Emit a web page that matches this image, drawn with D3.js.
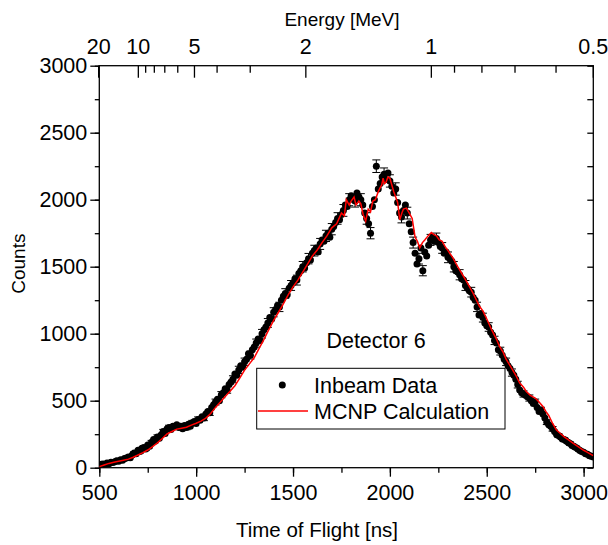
<!DOCTYPE html>
<html>
<head>
<meta charset="utf-8">
<script src="https://cdn.jsdelivr.net/npm/d3@7"></script>
<style>
  html, body { margin: 0; padding: 0; background: #fff; }
  svg { display: block; font-family: "Liberation Sans", Arial, Helvetica, sans-serif; }
</style>
</head>
<body>
<svg id="chart" width="608" height="545"></svg>
<script>
// ---------------- DATA ----------------
const xTicks = [500, 1000, 1500, 2000, 2500, 3000];
const yTicks = [0, 500, 1000, 1500, 2000, 2500, 3000];
const energyMajor = [20, 10, 5, 2, 1, 0.5];
const energyMinor = [9, 8, 7, 6, 4, 3, 0.9, 0.8, 0.7, 0.6];

// Inbeam data: time of flight [ns] and counts
const dataTof = [
 500,510,520,530,540,550,560,570,580,590,600,610,620,630,640,650,660,670,680,690,
 700,710,720,730,740,750,760,770,780,790,800,810,820,830,840,850,860,870,880,890,
 900,910,920,930,940,950,960,970,980,990,1000,1010,1020,1030,1040,1050,1060,1070,1080,1090,
 1100,1110,1120,1130,1140,1150,1160,1170,1180,1190,1200,1210,1220,1230,1240,1250,1260,1270,1280,1290,
 1300,1310,1320,1330,1340,1350,1360,1370,1380,1390,1400,1410,1420,1430,1440,1450,1460,1470,1480,1490,
 1500,1510,1520,1530,1540,1550,1560,1570,1580,1590,1600,1610,1620,1630,1640,1650,1660,1670,1680,1690,
 1700,1710,1720,1730,1740,1750,1760,1770,1780,1790,1800,1810,1820,1830,1840,1850,1860,1870,1880,1890,
 1900,1910,1920,1930,1940,1950,1960,1970,1980,1990,2000,2010,2020,2030,2040,2050,2060,2070,2080,2090,
 2100,2110,2120,2130,2140,2150,2160,2170,2180,2190,2200,2210,2220,2230,2240,2250,2260,2270,2280,2290,
 2300,2310,2320,2330,2340,2350,2360,2370,2380,2390,2400,2410,2420,2430,2440,2450,2460,2470,2480,2490,
 2500,2510,2520,2530,2540,2550,2560,2570,2580,2590,2600,2610,2620,2630,2640,2650,2660,2670,2680,2690,
 2700,2710,2720,2730,2740,2750,2760,2770,2780,2790,2800,2810,2820,2830,2840,2850,2860,2870,2880,2890,
 2900,2910,2920,2930,2940,2950,2960,2970,2980,2990,3000,3010,3020,3030,3040,3050
];
const dataCounts = [
 20,25,28,22,35,30,40,38,45,52,48,60,55,68,72,80,75,95,110,105,
 130,120,145,150,140,170,160,190,210,200,230,220,245,270,255,290,300,285,310,305,
 320,300,310,290,315,300,325,310,335,345,330,360,355,380,370,400,420,410,450,470,
 490,510,500,545,560,590,580,620,640,660,700,690,730,760,750,790,810,850,840,880,
 900,930,960,950,1000,1030,1050,1080,1120,1110,1160,1180,1210,1200,1250,1280,1300,1290,1340,1360,
 1380,1410,1400,1450,1470,1500,1490,1530,1560,1550,1600,1620,1640,1610,1670,1700,1690,1730,1750,1720,
 1780,1800,1830,1860,1850,1890,1920,1960,1950,2000,2030,2010,1990,2050,2020,2000,1960,1900,1860,1820,
 1750,1950,2000,2250,2080,2120,2170,2190,2150,2200,2140,2100,2050,2080,1980,1900,1870,1920,1960,1900,
 1820,1760,1680,1600,1520,1560,1640,1470,1610,1580,1660,1700,1720,1690,1710,1680,1650,1640,1600,1610,
 1570,1560,1540,1500,1470,1460,1440,1410,1400,1360,1340,1320,1310,1270,1250,1200,1140,1150,1120,1080,
 1060,1050,1010,990,950,930,880,870,840,810,790,760,740,710,690,660,620,580,560,550,
 540,530,520,500,480,490,450,420,430,400,370,340,320,310,290,270,250,240,230,215,
 210,200,190,180,165,160,150,140,130,120,115,105,100,90,85,80
];

// Error bars (shown on a subset of points)
const errTof = [
 500,530,560,590,620,650,680,710,740,770,800,830,860,890,920,950,980,1010,1040,1070,
 1100,1130,1160,1190,1220,1250,1280,1310,1340,1370,1400,1430,1460,1490,1520,1550,1580,1610,1640,1670,
 1700,1730,1760,1790,1820,1850,1880,1900,1930,1970,2000,2030,2060,2090,2120,2150,2170,2210,2240,2270,
 2300,2330,2360,2390,2420,2450,2480,2510,2540,2570,2600,2630,2660,2690,2720,2750,2780,2810,2840,2870,
 2900,2930,2960,2990,3020,3050
];
const errSize = [
 4,5,6,7,7,9,10,11,12,14,15,16,17,17,18,17,18,19,19,20,
 22,23,24,26,27,28,29,30,32,33,34,35,36,37,37,39,39,40,41,42,
 42,43,44,45,45,45,43,42,47,47,46,46,43,44,41,40,38,41,41,40,
 40,39,38,37,36,35,33,32,31,29,28,27,25,23,23,22,21,18,17,15,
 14,13,12,11,10,9
];

// MCNP calculation
const mcnpTof = [
 500,525,550,575,600,625,650,675,700,725,750,775,800,825,850,875,900,925,950,975,
 1000,1025,1050,1075,1100,1125,1150,1175,1200,1225,1250,1275,1300,1325,1350,1375,1400,1425,1450,1475,
 1500,1525,1550,1575,1600,1625,1650,1675,1700,1725,1750,1765,1775,1790,1800,1815,1825,1840,1850,1862,
 1875,1888,1900,1912,1925,1940,1950,1958,1965,1972,1980,1990,2000,2010,2020,2030,2040,2051,2062,2070,
 2085,2100,2115,2130,2142,2154,2168,2180,2197,2214,2228,2240,2255,2270,2285,2300,2326,2350,2375,2400,
 2430,2463,2480,2500,2525,2550,2566,2585,2600,2625,2650,2670,2690,2704,2725,2750,2770,2790,2805,2820,
 2840,2859,2880,2900,2920,2945,2970,3000,3020,3040,3050
];
const mcnpCounts = [
 8,20,32,40,48,56,64,78,95,112,132,158,185,218,252,270,288,295,302,318,
 332,348,370,405,450,490,532,570,612,668,728,775,822,890,958,1030,1100,1160,1222,1290,
 1350,1400,1460,1520,1580,1625,1680,1730,1790,1820,1900,1880,2000,1960,1990,2020,1960,1990,1970,1890,
 1840,1930,1910,1990,2000,2060,2090,2110,2160,2120,2130,2170,2160,2110,2060,2020,1980,1850,1900,1930,
 1937,1900,1860,1720,1690,1640,1680,1700,1730,1755,1740,1730,1700,1690,1650,1620,1564,1500,1440,1380,
 1300,1203,1170,1110,1030,960,905,860,810,750,690,632,600,569,540,520,490,457,420,390,
 330,283,255,230,210,184,160,130,115,97,90
];

// ---------------- LAYOUT ----------------
const svg = d3.select("#chart");
const plot = { left: 99.3, right: 593.3, top: 65.7, bottom: 467.7 };
const FONT = 21.5;

const x = d3.scaleLinear().domain([500, 3050]).range([plot.left, plot.right]);
const y = d3.scaleLinear().domain([0, 3000]).range([plot.bottom, plot.top]);

// energy (MeV) -> time of flight (ns) for the top axis
const energyToTof = E => 2 + 2212 / Math.sqrt(E);
const ex = E => Math.min(x(energyToTof(E)), plot.right);

svg.append("defs").append("clipPath").attr("id", "clip")
  .append("rect").attr("x", plot.left).attr("y", plot.top)
  .attr("width", plot.right - plot.left).attr("height", plot.bottom - plot.top);

// ---------------- AXES ----------------
const axisStyle = g => {
  g.selectAll("path.domain").remove();
  g.selectAll("line").attr("stroke", "#000").attr("stroke-width", 1.3);
  g.selectAll("text").attr("font-size", FONT).attr("fill", "#000")
    .attr("font-family", '"Liberation Sans", Arial, sans-serif');
};

// bottom
svg.append("g").attr("transform", `translate(0,${plot.bottom})`)
  .call(d3.axisBottom(x).tickValues(d3.range(500, 3050, 250)).tickSize(5).tickFormat(""))
  .call(axisStyle);
svg.append("g").attr("transform", `translate(0,${plot.bottom})`)
  .call(d3.axisBottom(x).tickValues(xTicks).tickSize(9).tickPadding(8).tickFormat(d3.format("d")))
  .call(axisStyle);

// left
svg.append("g").attr("transform", `translate(${plot.left},0)`)
  .call(d3.axisLeft(y).tickValues(d3.range(0, 3001, 250)).tickSize(4.5).tickFormat(""))
  .call(axisStyle);
svg.append("g").attr("transform", `translate(${plot.left},0)`)
  .call(d3.axisLeft(y).tickValues(yTicks).tickSize(9).tickPadding(3).tickFormat(d3.format("d")))
  .call(axisStyle);

// right (inward)
svg.append("g").attr("transform", `translate(${plot.right},0)`)
  .call(d3.axisRight(y).tickValues(d3.range(0, 3001, 250)).tickSize(-6).tickFormat(""))
  .call(axisStyle);

// top energy axis (inward ticks)
const topG = svg.append("g");
topG.selectAll("line.emaj").data(energyMajor).join("line")
  .attr("x1", d => ex(d)).attr("x2", d => ex(d))
  .attr("y1", plot.top).attr("y2", plot.top + 12)
  .attr("stroke", "#000").attr("stroke-width", 1.3);
topG.selectAll("line.emin").data(energyMinor).join("line")
  .attr("x1", d => ex(d)).attr("x2", d => ex(d))
  .attr("y1", plot.top).attr("y2", plot.top + 7)
  .attr("stroke", "#000").attr("stroke-width", 1.3);
topG.selectAll("text").data(energyMajor).join("text")
  .attr("x", d => ex(d)).attr("y", plot.top - 11.5)
  .attr("text-anchor", "middle").attr("font-size", FONT)
  .text(d => d);

// frame
svg.append("rect").attr("x", plot.left).attr("y", plot.top)
  .attr("width", plot.right - plot.left).attr("height", plot.bottom - plot.top)
  .attr("fill", "none").attr("stroke", "#000").attr("stroke-width", 1.3);

// axis titles
svg.append("text").attr("x", 317).attr("y", 537)
  .attr("text-anchor", "middle").attr("font-size", 20.5).text("Time of Flight [ns]");
svg.append("text").attr("x", 342).attr("y", 26)
  .attr("text-anchor", "middle").attr("font-size", 19).text("Energy [MeV]");
svg.append("text").attr("transform", `translate(25,${(plot.top + plot.bottom) / 2 - 3}) rotate(-90)`)
  .attr("text-anchor", "middle").attr("font-size", 19).text("Counts");

// ---------------- MARKS ----------------
const marks = svg.append("g").attr("clip-path", "url(#clip)");
const pts = dataTof.map((t, i) => ({ t, c: dataCounts[i] }));
const errs = errTof.map((t, i) => ({ t, c: dataCounts[dataTof.indexOf(t)], e: errSize[i] }));

const eg = marks.append("g").attr("stroke", "#000").attr("stroke-width", 1);
eg.selectAll("line.v").data(errs).join("line")
  .attr("x1", d => x(d.t)).attr("x2", d => x(d.t))
  .attr("y1", d => y(d.c - d.e)).attr("y2", d => y(d.c + d.e));
eg.selectAll("line.t").data(errs).join("line")
  .attr("x1", d => x(d.t) - 4).attr("x2", d => x(d.t) + 4)
  .attr("y1", d => y(d.c + d.e)).attr("y2", d => y(d.c + d.e));
eg.selectAll("line.b").data(errs).join("line")
  .attr("x1", d => x(d.t) - 4).attr("x2", d => x(d.t) + 4)
  .attr("y1", d => y(d.c - d.e)).attr("y2", d => y(d.c - d.e));

marks.append("g").selectAll("circle").data(pts).join("circle")
  .attr("cx", d => x(d.t)).attr("cy", d => y(d.c)).attr("r", 3.5).attr("fill", "#000");

const line = d3.line().x(d => x(d[0])).y(d => y(d[1]));
marks.append("path").datum(mcnpTof.map((t, i) => [t, mcnpCounts[i]]))
  .attr("d", line).attr("fill", "none").attr("stroke", "#ff0000").attr("stroke-width", 1.5);

// ---------------- ANNOTATION & LEGEND ----------------
svg.append("text").attr("x", 376).attr("y", 348).attr("text-anchor", "middle")
  .attr("font-size", FONT).text("Detector 6");

const lg = svg.append("g");
lg.append("rect").attr("x", 256.7).attr("y", 368.3).attr("width", 248.3).attr("height", 60.7)
  .attr("fill", "#fff").attr("stroke", "#000").attr("stroke-width", 1);
lg.append("circle").attr("cx", 282.3).attr("cy", 385).attr("r", 3.5).attr("fill", "#000");
lg.append("line").attr("x1", 258).attr("x2", 308).attr("y1", 411).attr("y2", 411)
  .attr("stroke", "#ff0000").attr("stroke-width", 1.5);
lg.append("text").attr("x", 314).attr("y", 392.5).attr("font-size", FONT).text("Inbeam Data");
lg.append("text").attr("x", 314).attr("y", 419).attr("font-size", FONT).text("MCNP Calculation");
</script>
</body>
</html>
